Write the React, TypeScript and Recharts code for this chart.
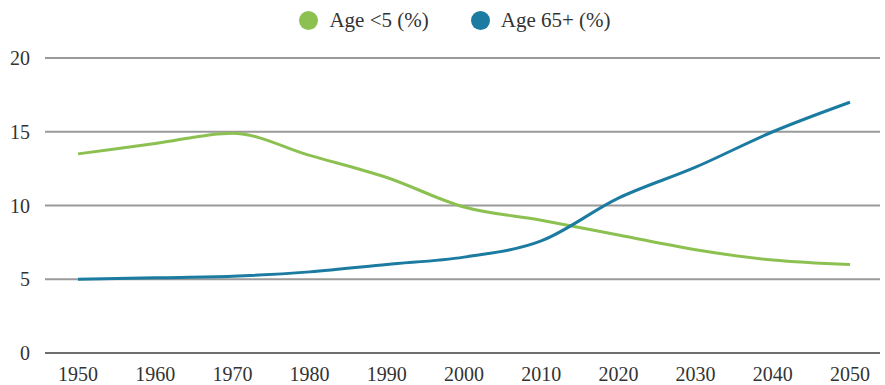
import { CartesianGrid, Legend, Line, LineChart, XAxis, YAxis } from "recharts"

const years = ["1950", "1960", "1970", "1980", "1990", "2000", "2010", "2020", "2030", "2040", "2050"]
const under5 = [13.5, 14.2, 14.9, 13.4, 11.9, 9.9, 9.0, 8.0, 7.0, 6.3, 6.0]
const over65 = [5.0, 5.1, 5.2, 5.5, 6.0, 6.5, 7.6, 10.5, 12.6, 15.0, 17.0]
const yTicks = [0, 5, 10, 15, 20]

const series = [
  { key: "under5", name: "Age <5 (%)", color: "#8cc152" },
  { key: "over65", name: "Age 65+ (%)", color: "#1b7ba0" },
]

const data = years.map((year, i) => ({ year, under5: under5[i], over65: over65[i] }))

const font = "'Liberation Serif', serif"

// legend in series order (the default one sorts by name)
function LegendRow() {
  return (
    <div style={{ display: "flex", justifyContent: "center", gap: 42, fontSize: 21, color: "#333", paddingLeft: 30, fontFamily: font }}>
      {series.map((s) => (
        <div key={s.key} style={{ display: "flex", alignItems: "center", gap: 11 }}>
          <span style={{ width: 19, height: 19, borderRadius: "50%", background: s.color, display: "inline-block" }} />
          <span>{s.name}</span>
        </div>
      ))}
    </div>
  )
}

export default function App() {
  return (
    <div style={{ position: "absolute", left: 0, top: 0, fontFamily: font }}>
      <LineChart width={885} height={385} data={data} margin={{ top: 8, right: 5, bottom: 2, left: 0 }}>
        <Legend verticalAlign="top" height={50} content={<LegendRow />} />
        <CartesianGrid horizontal vertical={false} stroke="#9a9a9a" strokeWidth={2} />
        <XAxis
          dataKey="year"
          padding={{ left: 33, right: 30 }}
          tickLine={false}
          axisLine={{ stroke: "#6e6e6e", strokeWidth: 2 }}
          tick={{ fill: "#333", fontSize: 20, fontFamily: font }}
          tickMargin={8}
          interval={0}
        />
        <YAxis
          domain={[0, 20]}
          ticks={yTicks}
          width={45}
          tickLine={false}
          axisLine={false}
          tickSize={0}
          tickMargin={15}
          tick={{ fill: "#333", fontSize: 20, fontFamily: font }}
        />
        {series.map((s) => (
          <Line
            key={s.key}
            type="monotone"
            dataKey={s.key}
            name={s.name}
            stroke={s.color}
            strokeWidth={3}
            dot={false}
            isAnimationActive={false}
          />
        ))}
      </LineChart>
    </div>
  )
}
